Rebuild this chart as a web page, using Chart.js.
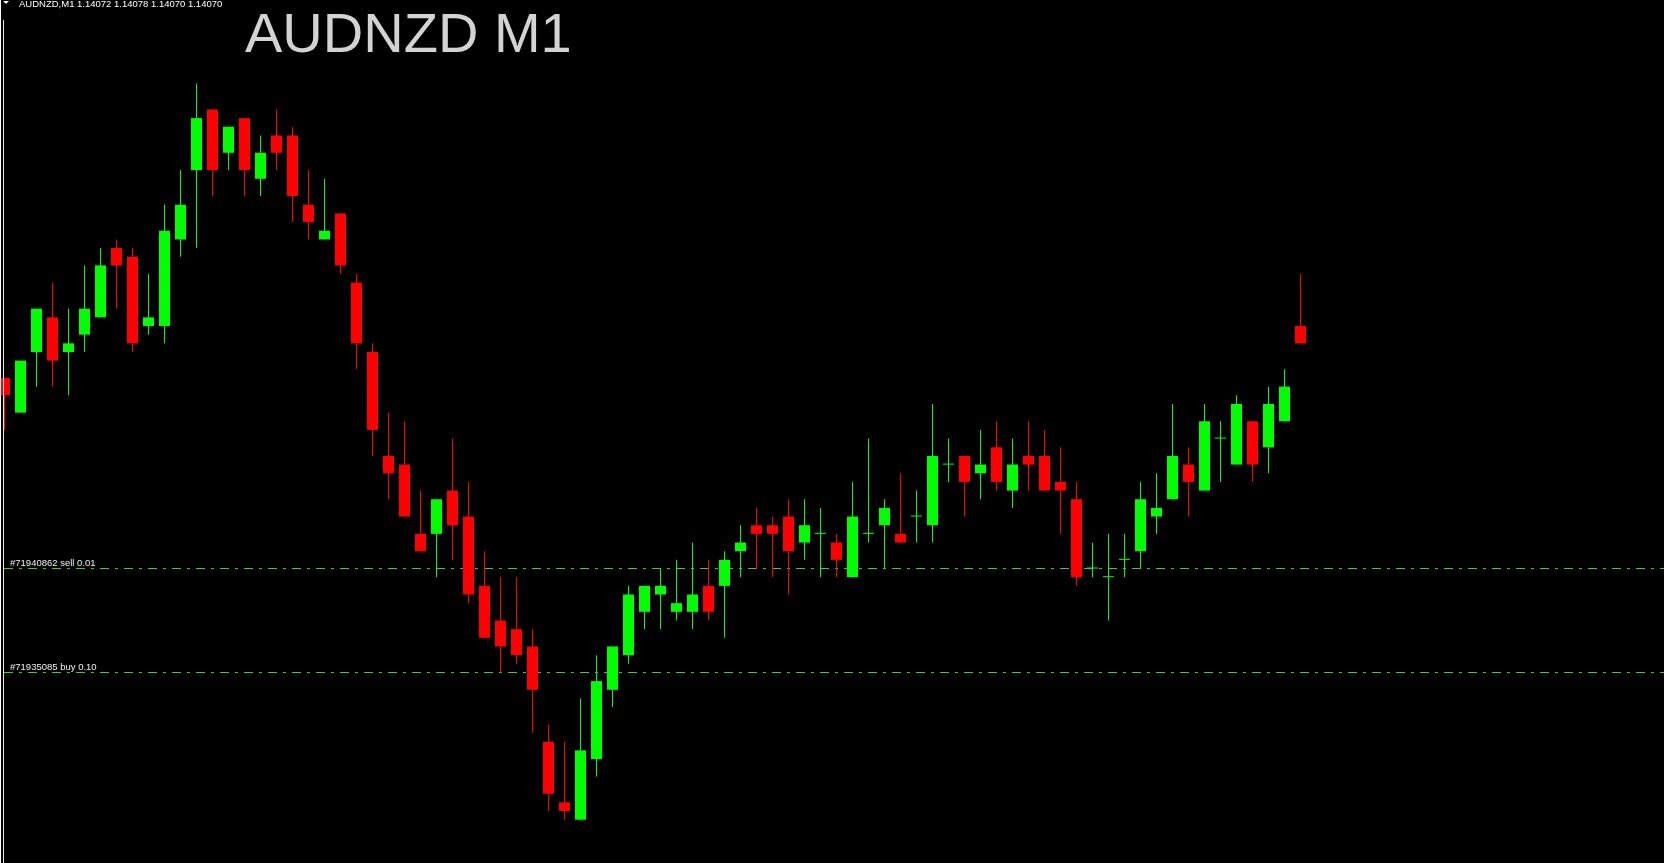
<!DOCTYPE html>
<html>
<head>
<meta charset="utf-8">
<title>AUDNZD M1</title>
<script src="https://cdn.jsdelivr.net/npm/chart.js@4.4.1/dist/chart.umd.min.js"></script>
<style>
  html, body { margin: 0; padding: 0; background: #000; overflow: hidden; }
  #wrap { position: relative; width: 1664px; height: 863px; }
  canvas { display: block; }
</style>
</head>
<body>
<div id="wrap"><canvas id="c" width="1664" height="863"></canvas></div>
<script>
// ---- Chart data ----
const symbol = 'AUDNZD';
const timeframe = 'M1';

const opens = [1.14066,1.14062,1.14069,1.14073,1.14069,1.14071,1.14073,1.14081,1.14080,1.14072,
1.14072,1.14082,1.14090,1.14097,1.14092,1.14096,1.14089,1.14094,1.14094,1.14086,
1.14082,1.14085,1.14077,1.14069,1.14057,1.14056,1.14048,1.14048,1.14053,1.14050,
1.14042,1.14038,1.14037,1.14035,1.14024,1.14017,1.14015,1.14022,1.14030,1.14034,
1.14039,1.14041,1.14039,1.14039,1.14042,1.14042,1.14046,1.14049,1.14049,1.14050,
1.14047,1.14048,1.14047,1.14043,1.14048,1.14049,1.14048,1.14050,1.14049,1.14056,
1.14057,1.14055,1.14058,1.14053,1.14057,1.14057,1.14054,1.14052,1.14044,1.14043,
1.14045,1.14046,1.14050,1.14052,1.14056,1.14053,1.14059,1.14056,1.14061,1.14058,
1.14061,1.14072];

const highs = [1.14066,1.14068,1.14074,1.14077,1.14074,1.14079,1.14081,1.14082,1.14081,1.14078,
1.14086,1.14090,1.14100,1.14097,1.14095,1.14096,1.14094,1.14097,1.14095,1.14090,
1.14089,1.14085,1.14078,1.14070,1.14062,1.14061,1.14053,1.14052,1.14059,1.14054,
1.14046,1.14043,1.14043,1.14037,1.14026,1.14024,1.14029,1.14034,1.14035,1.14042,
1.14042,1.14044,1.14045,1.14047,1.14045,1.14046,1.14049,1.14051,1.14050,1.14052,
1.14052,1.14051,1.14048,1.14054,1.14059,1.14052,1.14055,1.14053,1.14063,1.14059,
1.14057,1.14060,1.14061,1.14059,1.14061,1.14060,1.14058,1.14054,1.14047,1.14048,
1.14048,1.14054,1.14055,1.14063,1.14058,1.14063,1.14061,1.14064,1.14061,1.14065,
1.14067,1.14078];

const lows = [1.14060,1.14062,1.14065,1.14065,1.14064,1.14069,1.14073,1.14074,1.14069,1.14071,
1.14070,1.14080,1.14081,1.14087,1.14090,1.14087,1.14087,1.14090,1.14084,1.14082,
1.14082,1.14078,1.14067,1.14057,1.14052,1.14050,1.14046,1.14043,1.14045,1.14040,
1.14036,1.14032,1.14033,1.14025,1.14016,1.14015,1.14015,1.14020,1.14028,1.14033,
1.14037,1.14037,1.14038,1.14037,1.14038,1.14036,1.14043,1.14044,1.14043,1.14041,
1.14045,1.14043,1.14043,1.14043,1.14047,1.14044,1.14047,1.14047,1.14047,1.14054,
1.14050,1.14052,1.14053,1.14051,1.14053,1.14053,1.14048,1.14042,1.14043,1.14038,
1.14043,1.14044,1.14048,1.14052,1.14050,1.14053,1.14054,1.14056,1.14054,1.14055,
1.14061,1.14070];

const closes = [1.14064,1.14068,1.14074,1.14068,1.14070,1.14074,1.14079,1.14079,1.14070,1.14073,
1.14083,1.14086,1.14096,1.14090,1.14095,1.14090,1.14092,1.14092,1.14087,1.14084,
1.14083,1.14079,1.14070,1.14060,1.14055,1.14050,1.14046,1.14052,1.14049,1.14041,
1.14036,1.14035,1.14034,1.14030,1.14018,1.14016,1.14023,1.14031,1.14035,1.14041,
1.14042,1.14042,1.14040,1.14041,1.14039,1.14045,1.14047,1.14048,1.14048,1.14046,
1.14049,1.14048,1.14045,1.14050,1.14048,1.14051,1.14047,1.14050,1.14057,1.14056,
1.14054,1.14056,1.14054,1.14056,1.14056,1.14053,1.14053,1.14043,1.14044,1.14043,
1.14045,1.14052,1.14051,1.14057,1.14054,1.14061,1.14059,1.14063,1.14056,1.14063,
1.14065,1.14070];

// Open orders shown as horizontal lines
const orderTickets = ['#71940862', '#71935085'];
const orderTypes   = ['sell', 'buy'];
const orderLots    = [0.01, 0.10];
const orderPrices  = [1.14044, 1.14032];

// ---- Styles ----
const BULL = '#00FF00';
const BEAR = '#FF0000';
const ORDER_LINE = '#2ED12E';

const barIndex = opens.map((_, i) => i);
const colors = barIndex.map(i => closes[i] >= opens[i] ? BULL : BEAR);

const bodyData = barIndex.map(i => ({ x: i, y: [opens[i], closes[i]] }));
const wickData = barIndex.map(i => ({ x: i, y: [lows[i], highs[i]] }));

const mtDecor = {
  id: 'mtDecor',
  beforeDraw(chart) {
    const { ctx, width, height } = chart;
    ctx.save();
    ctx.fillStyle = '#000000';
    ctx.fillRect(0, 0, width, height);
    ctx.restore();
  },
  beforeDatasetsDraw(chart) {
    const { ctx, width } = chart;
    const y = chart.scales.y;
    ctx.save();
    ctx.strokeStyle = ORDER_LINE;
    ctx.lineWidth = 1;
    ctx.setLineDash([9, 6, 3, 6]);
    orderPrices.forEach(p => {
      const py = Math.floor(y.getPixelForValue(p)) + 0.5;
      ctx.beginPath();
      ctx.moveTo(4, py);
      ctx.lineTo(width, py);
      ctx.stroke();
    });
    ctx.restore();
  },
  afterDraw(chart) {
    const { ctx, height } = chart;
    const y = chart.scales.y;
    ctx.save();
    // window border lines at left
    ctx.fillStyle = '#FFFFFF';
    ctx.fillRect(0, 0, 1, height);
    ctx.fillStyle = '#E8E8E8';
    ctx.fillRect(3, 20, 1, height - 20);

    // order labels
    ctx.font = "9.5px 'Liberation Sans', Arial, sans-serif";
    ctx.fillStyle = '#F0F0F0';
    ctx.textBaseline = 'alphabetic';
    ctx.textAlign = 'left';
    orderPrices.forEach((p, k) => {
      const py = Math.floor(y.getPixelForValue(p));
      ctx.fillText(orderTickets[k] + ' ' + orderTypes[k] + ' ' + orderLots[k].toFixed(2), 10, py - 2);
    });

    // header: triangle + symbol/period + last OHLC
    ctx.beginPath();
    ctx.moveTo(3, 1); ctx.lineTo(9, 1); ctx.lineTo(6, 4); ctx.closePath();
    ctx.fillStyle = '#FFFFFF';
    ctx.fill();
    const last = opens.length - 1;
    ctx.font = "9.5px 'Liberation Sans', Arial, sans-serif";
    ctx.fillStyle = '#FFFFFF';
    ctx.fillText(symbol + ',' + timeframe, 19, 7);
    ctx.fillText([opens[last], highs[last], lows[last], closes[last]].map(v => v.toFixed(5)).join(' '), 77, 7);

    // big title
    ctx.font = "56px 'Liberation Sans', Arial, sans-serif";
    ctx.fillStyle = '#D3D3D3';
    ctx.fillText(symbol + ' ' + timeframe, 245, 51.5);
    ctx.restore();
  }
};

new Chart(document.getElementById('c'), {
  type: 'bar',
  data: {
    datasets: [
      {
        label: 'body',
        data: bodyData,
        backgroundColor: colors,
        borderWidth: 0,
        barThickness: 11,
        grouped: false,
        minBarLength: 1,
        inflateAmount: 0
      },
      {
        label: 'wick',
        data: wickData,
        backgroundColor: colors,
        borderWidth: 0,
        barThickness: 1,
        grouped: false,
        inflateAmount: 0
      }
    ]
  },
  options: {
    responsive: false,
    animation: false,
    devicePixelRatio: 1,
    layout: { padding: 0 },
    plugins: {
      legend: { display: false },
      title: { display: false },
      tooltip: { enabled: false }
    },
    scales: {
      x: {
        type: 'linear',
        display: false,
        offset: false,
        min: -0.28125,
        max: 103.71875,
        grid: { display: false }
      },
      y: {
        type: 'linear',
        display: false,
        min: 1.14010,
        max: 1.1410964,
        grid: { display: false }
      }
    }
  },
  plugins: [mtDecor]
});
</script>
</body>
</html>
